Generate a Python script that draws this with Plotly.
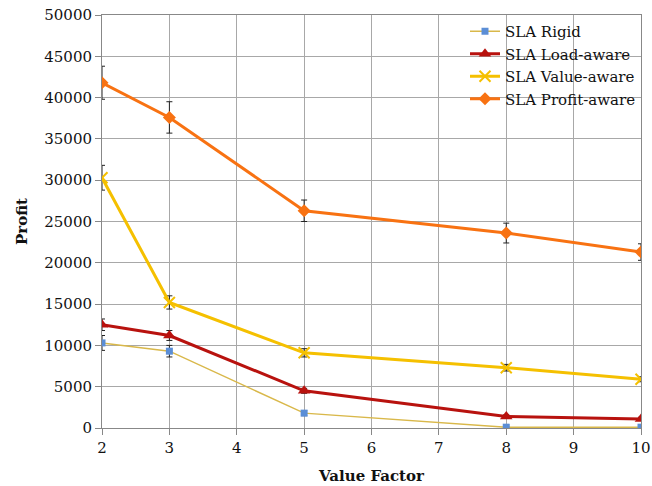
import plotly.graph_objects as go

# Value factor on the x axis
value_factor = [2, 3, 5, 8, 10]

# Mean profit per SLA policy
rigid = [10300, 9300, 1800, 100, 100]
load_aware = [12500, 11200, 4500, 1400, 1100]
value_aware = [30300, 15200, 9100, 7300, 5900]
profit_aware = [41800, 37600, 26300, 23600, 21300]

# Error bar half-widths
rigid_err = [900, 700, 300, 100, 100]
load_err = [700, 600, 300, 200, 200]
value_err = [1500, 800, 500, 400, 300]
profit_err = [2000, 1900, 1300, 1200, 1000]

series = [
    ("SLA Rigid", rigid, rigid_err, "#D9B84A", 1.5, "square", "#5B8ED6", 7),
    ("SLA Load-aware", load_aware, load_err, "#B8120E", 3, "triangle-up", "#B8120E", 11),
    ("SLA Value-aware", value_aware, value_err, "#F5C000", 3, "x-thin-open", "#F5C000", 11),
    ("SLA Profit-aware", profit_aware, profit_err, "#F87212", 3, "diamond", "#F87212", 10),
]

fig = go.Figure()
for name, ys, errs, lc, lw, sym, mc, ms in series:
    fig.add_trace(go.Scatter(
        x=value_factor, y=ys, name=name, mode="lines+markers",
        line=dict(color=lc, width=lw),
        marker=dict(symbol=sym, color=mc, size=ms,
                    line=dict(color=mc, width=2 if sym.startswith("x") else 0)),
        error_y=dict(type="data", array=errs, visible=True,
                     color="#222222", thickness=1, width=3),
    ))

serif = "DejaVu Serif"

fig.update_layout(
    width=652, height=486,
    margin=dict(l=102, r=11, t=15, b=58),
    paper_bgcolor="white", plot_bgcolor="white",
    font=dict(family=serif, size=15, color="#111111"),
    showlegend=True,
    legend=dict(
        x=1, y=1, xanchor="right", yanchor="top",
        bgcolor="rgba(0,0,0,0)", borderwidth=0,
        font=dict(family=serif, size=15, color="#111111"),
        tracegroupgap=0, itemwidth=30,
    ),
    xaxis=dict(
        range=[2, 10], dtick=1, tick0=2, automargin=False,
        showgrid=True, gridcolor="#A8A8A8", gridwidth=1,
        showline=True, linecolor="#888888", mirror=True,
        ticks="outside", ticklen=6, tickcolor="#888888",
        zeroline=False,
        tickfont=dict(family=serif, size=15),
        title=dict(text="<b>Value Factor</b>", font=dict(family=serif, size=15), standoff=14),
    ),
    yaxis=dict(
        range=[0, 50000], dtick=5000, tickformat="d", automargin=False,
        showgrid=True, gridcolor="#A8A8A8", gridwidth=1,
        showline=True, linecolor="#888888", mirror=True,
        ticks="outside", ticklen=6, tickcolor="#888888",
        zeroline=False,
        tickfont=dict(family=serif, size=15),
        title=dict(text="<b>Profit</b>", font=dict(family=serif, size=15), standoff=13),
    ),
)

fig.write_html("out.html")
